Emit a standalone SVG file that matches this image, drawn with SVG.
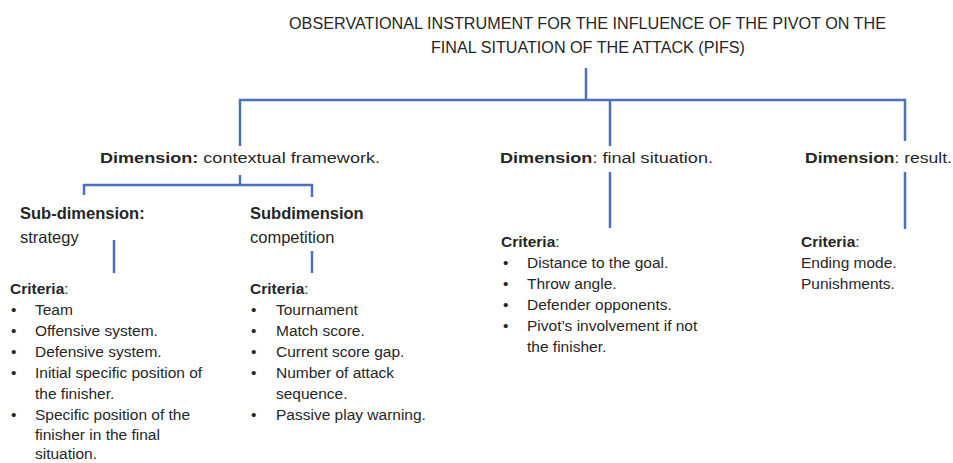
<svg xmlns="http://www.w3.org/2000/svg" width="953" height="463" viewBox="0 0 953 463">
<style>
text{font-family:"Liberation Sans",Arial,sans-serif;fill:#262626;}
.title{font-size:16px;}
.dim{font-size:15.5px;}
.sub{font-size:16.5px;}
.body{font-size:15.5px;}
.b{font-weight:bold;}
.conn line{stroke:#4a72b8;stroke-width:2.5;fill:none;}
</style>
<rect width="953" height="463" fill="#ffffff"/>
<g id="connectors" class="conn">
<line x1="586" y1="68" x2="586" y2="100"/>
<line x1="239" y1="100" x2="906" y2="100"/>
<line x1="240" y1="99" x2="240" y2="146"/>
<line x1="610" y1="99" x2="610" y2="146"/>
<line x1="905" y1="99" x2="905" y2="141"/>
<line x1="240" y1="175" x2="240" y2="185"/>
<line x1="83" y1="185" x2="313" y2="185"/>
<line x1="84" y1="184" x2="84" y2="195"/>
<line x1="312" y1="184" x2="312" y2="197"/>
<line x1="114" y1="240" x2="114" y2="273"/>
<line x1="312" y1="251" x2="312" y2="273"/>
<line x1="610" y1="172" x2="610" y2="228"/>
<line x1="905" y1="172" x2="905" y2="229"/>
</g>
<g id="title">
<text class="title" x="289" y="29" textLength="597" lengthAdjust="spacingAndGlyphs">OBSERVATIONAL INSTRUMENT FOR THE INFLUENCE OF THE PIVOT ON THE</text>
<text class="title" x="431" y="53" textLength="314" lengthAdjust="spacingAndGlyphs">FINAL SITUATION OF THE ATTACK (PIFS)</text>
</g>
<g id="dim-contextual">
<text class="dim" x="100" y="163" textLength="280" lengthAdjust="spacingAndGlyphs"><tspan class="b">Dimension:</tspan> contextual framework.</text>
</g>
<g id="sub-strategy">
<text class="sub" x="20" y="219"><tspan class="b">Sub-dimension:</tspan></text>
<text class="sub" x="20" y="243">strategy</text>
</g>
<g id="sub-competition">
<text class="sub" x="250" y="219"><tspan class="b">Subdimension</tspan></text>
<text class="sub" x="250" y="243">competition</text>
</g>
<g id="criteria-strategy">
<text class="body" x="10" y="294"><tspan class="b">Criteria</tspan>:</text>
<text class="body" x="11" y="315">•</text><text class="body" x="35" y="315">Team</text>
<text class="body" x="11" y="336">•</text><text class="body" x="35" y="336">Offensive system.</text>
<text class="body" x="11" y="357">•</text><text class="body" x="35" y="357">Defensive system.</text>
<text class="body" x="11" y="378">•</text><text class="body" x="35" y="378">Initial specific position of</text>
<text class="body" x="35" y="399">the finisher.</text>
<text class="body" x="11" y="420">•</text><text class="body" x="35" y="420">Specific position of the</text>
<text class="body" x="35" y="440">finisher in the final</text>
<text class="body" x="35" y="459">situation.</text>
</g>
<g id="criteria-competition">
<text class="body" x="250" y="294"><tspan class="b">Criteria</tspan>:</text>
<text class="body" x="251" y="315">•</text><text class="body" x="276" y="315">Tournament</text>
<text class="body" x="251" y="336">•</text><text class="body" x="276" y="336">Match score.</text>
<text class="body" x="251" y="357">•</text><text class="body" x="276" y="357">Current score gap.</text>
<text class="body" x="251" y="378">•</text><text class="body" x="276" y="378">Number of attack</text>
<text class="body" x="276" y="399">sequence.</text>
<text class="body" x="251" y="420">•</text><text class="body" x="276" y="420">Passive play warning.</text>
</g>
<g id="dim-final">
<text class="dim" x="500" y="163" textLength="213" lengthAdjust="spacingAndGlyphs"><tspan class="b">Dimension</tspan>: final situation.</text>
</g>
<g id="criteria-final">
<text class="body" x="501" y="247"><tspan class="b">Criteria</tspan>:</text>
<text class="body" x="503" y="268">•</text><text class="body" x="527" y="268">Distance to the goal.</text>
<text class="body" x="503" y="289">•</text><text class="body" x="527" y="289">Throw angle.</text>
<text class="body" x="503" y="310">•</text><text class="body" x="527" y="310">Defender opponents.</text>
<text class="body" x="503" y="331">•</text><text class="body" x="527" y="331">Pivot’s involvement if not</text>
<text class="body" x="527" y="352">the finisher.</text>
</g>
<g id="dim-result">
<text class="dim" x="805" y="163" textLength="147" lengthAdjust="spacingAndGlyphs"><tspan class="b">Dimension</tspan>: result.</text>
</g>
<g id="criteria-result">
<text class="body" x="801" y="247"><tspan class="b">Criteria</tspan>:</text>
<text class="body" x="801" y="268">Ending mode.</text>
<text class="body" x="801" y="289">Punishments.</text>
</g>
</svg>
